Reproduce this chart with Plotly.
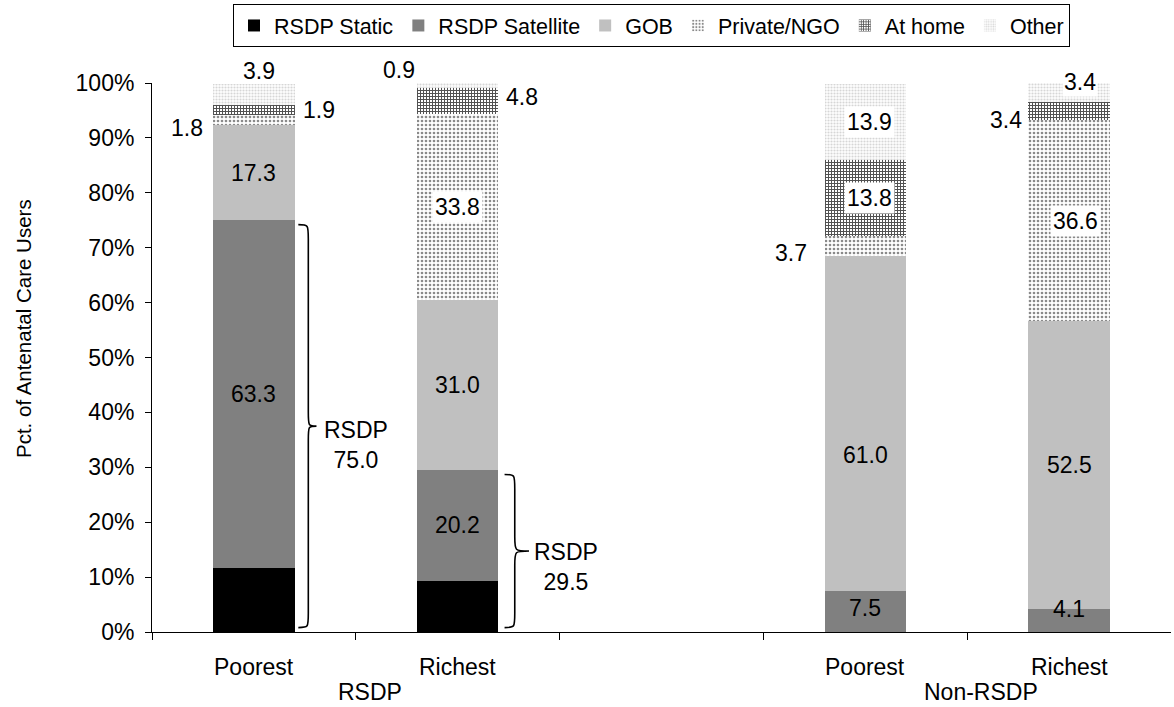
import plotly.graph_objects as go

# Antenatal care provider shares (%) by wealth group, RSDP vs Non-RSDP areas
series_names = ["RSDP Static", "RSDP Satellite", "GOB", "Private/NGO", "At home", "Other"]
bar_groups = ["RSDP", "RSDP", "Non-RSDP", "Non-RSDP"]
bar_labels = ["Poorest", "Richest", "Poorest", "Richest"]
bar_pos = [0, 1, 3, 4]

rsdp_total = [75.0, 29.5, 0.0, 0.0]
satellite = [63.3, 20.2, 7.5, 4.1]
static = [round(t - s, 1) if t > 0 else 0.0 for t, s in zip(rsdp_total, satellite)]
gob = [17.3, 31.0, 61.0, 52.5]
private_ngo = [1.8, 33.8, 3.7, 36.6]
at_home = [1.9, 4.8, 13.8, 3.4]
other = [3.9, 0.9, 13.9, 3.4]

series_values = [static, satellite, gob, private_ngo, at_home, other]

y_ticks = list(range(0, 101, 10))
y_ticktext = [f"{v}%" for v in y_ticks]

FONT = "Liberation Sans, Arial, sans-serif"
FS = 23
FS_LEGEND = 21.5
BAR_W = 0.4

styles = [
    dict(color="#000000"),
    dict(color="#808080"),
    dict(color="#c0c0c0"),
    dict(color="white", pattern=dict(shape=".", fgcolor="#8a8a8a", bgcolor="white",
                                     size=4, solidity=0.35, fillmode="replace")),
    dict(color="white", pattern=dict(shape="+", fgcolor="#505050", bgcolor="white",
                                     size=3, solidity=0.55, fillmode="replace")),
    dict(color="white", pattern=dict(shape=".", fgcolor="#d6d6d6", bgcolor="white",
                                     size=3, solidity=0.4, fillmode="replace")),
]

fig = go.Figure()
for name, vals, st in zip(series_names, series_values, styles):
    fig.add_trace(go.Bar(
        x=bar_pos, y=vals, name=name, width=BAR_W,
        marker=dict(line=dict(width=0), **st),
        hoverinfo="skip",
    ))

# where each value label sits: (series, bar) -> (mode, xshift, yshift)
placements = {
    (1, 0): ("in", 0, 0), (2, 0): ("in", 0, 0), (3, 0): ("left", -8, -8),
    (4, 0): ("right", 6, 0), (5, 0): ("top", 5, -2),
    (1, 1): ("in", 0, 0), (2, 1): ("in", 0, 0), (3, 1): ("box", 0, 0),
    (4, 1): ("right", 6, 4), (5, 1): ("topleft", 0, -2),
    (1, 2): ("in", 0, 3), (2, 2): ("in", 0, -32), (3, 2): ("left", -16, -7),
    (4, 2): ("box", 4, 0), (5, 2): ("box", 4, 0),
    (1, 3): ("in", 0, 12), (2, 3): ("in", 0, 0), (3, 3): ("box", 6, 0),
    (4, 3): ("left", -4, -9), (5, 3): ("topbox", 11, 1),
}

annotations = []
font = dict(family=FONT, size=FS, color="black")
for bi, xb in enumerate(bar_pos):
    base = 0.0
    total = sum(sv[bi] for sv in series_values)
    for si, sv in enumerate(series_values):
        v = sv[bi]
        mid = base + v / 2
        base += v
        if (si, bi) not in placements:
            continue
        mode, dx, dy = placements[(si, bi)]
        a = dict(text=f"{v:.1f}", showarrow=False, font=font, xref="x", yref="y",
                 xshift=dx, yshift=dy)
        if mode in ("in", "box"):
            a.update(x=xb, y=mid, xanchor="center", yanchor="middle")
            if mode == "box":
                a.update(bgcolor="white", borderpad=2)
        elif mode == "left":
            a.update(x=xb - BAR_W / 2, y=mid, xanchor="right", yanchor="middle")
        elif mode == "right":
            a.update(x=xb + BAR_W / 2, y=mid, xanchor="left", yanchor="middle")
        elif mode == "top":
            a.update(x=xb, y=total, xanchor="center", yanchor="bottom")
        elif mode == "topleft":
            a.update(x=xb - BAR_W / 2, y=total, xanchor="right", yanchor="bottom")
        elif mode == "topbox":
            a.update(x=xb, y=total, xanchor="center", yanchor="middle",
                     bgcolor="white", borderpad=1)
        annotations.append(a)

# curly braces bracketing the RSDP share (static + satellite)
brace_geom = {0: (0.218, 0.267, 0.307, -19, 0.50), 1: (0.23, 0.28, 0.35, -16, 0.53)}
shapes = []
for bi, (o0, o1, o2, text_dy, text_dx) in brace_geom.items():
    xb = bar_pos[bi]
    top = rsdp_total[bi] - 0.8
    bot = 0.8
    mid = rsdp_total[bi] / 2
    r = 2.6
    x0, x1, x2 = xb + o0, xb + o1, xb + o2
    path = (f"M {x0},{top} C {x1},{top} {x1},{top} {x1},{top - r} "
            f"L {x1},{mid + r} C {x1},{mid} {x1},{mid} {x2},{mid} "
            f"C {x1},{mid} {x1},{mid} {x1},{mid - r} "
            f"L {x1},{bot + r} C {x1},{bot} {x1},{bot} {x0},{bot}")
    shapes.append(dict(type="path", path=path, xref="x", yref="y",
                       line=dict(color="black", width=1.6), fillcolor="rgba(0,0,0,0)"))
    annotations.append(dict(text=f"RSDP<br>{rsdp_total[bi]:.1f}", x=xb + text_dx, y=mid,
                            xref="x", yref="y", xanchor="center", yanchor="middle",
                            yshift=text_dy, showarrow=False, font=font))

# category and group labels under the axis
for xb, lab in zip(bar_pos, bar_labels):
    annotations.append(dict(text=lab, x=xb, y=-0.0638, xref="x", yref="paper",
                            xanchor="center", yanchor="middle", showarrow=False, font=font))
group_pos = {"RSDP": 0.57, "Non-RSDP": 3.57}
for g, gx in group_pos.items():
    annotations.append(dict(text=g, x=gx, y=-0.109, xref="x", yref="paper",
                            xanchor="center", yanchor="middle", showarrow=False, font=font))

annotations.append(dict(text="Pct. of Antenatal Care Users", textangle=-90,
                        x=-0.1266, y=0.5537, xref="paper", yref="paper",
                        xanchor="center", yanchor="middle", showarrow=False,
                        font=dict(family=FONT, size=20.5, color="black")))

fig.update_layout(
    barmode="stack",
    width=1174, height=707,
    margin=dict(l=152, r=3, t=83, b=75),
    paper_bgcolor="white", plot_bgcolor="white",
    font=dict(family=FONT, size=FS, color="black"),
    showlegend=True,
    legend=dict(orientation="h", x=0.0795, xanchor="left", y=1.1439, yanchor="top",
                bordercolor="black", borderwidth=1, bgcolor="white",
                font=dict(family=FONT, size=FS_LEGEND, color="black"),
                traceorder="normal", itemclick=False),
    xaxis=dict(range=[-0.5, 4.5], tickmode="array",
               tickvals=[-0.5, 0.5, 1.5, 2.5, 3.5], showticklabels=False,
               ticks="outside", ticklen=7, tickcolor="black", showline=True,
               linecolor="black", linewidth=1, showgrid=False, zeroline=False, fixedrange=True),
    yaxis=dict(range=[0, 100], tickmode="array", tickvals=y_ticks, ticktext=y_ticktext,
               ticks="outside", ticklen=6, tickcolor="black", showline=True,
               linecolor="black", linewidth=1, showgrid=False, zeroline=False,
               ticklabelstandoff=6, tickfont=dict(family=FONT, size=FS, color="black"),
               fixedrange=True),
    annotations=annotations,
    shapes=shapes,
)

fig.write_html("out.html", config=dict(displayModeBar=False))
